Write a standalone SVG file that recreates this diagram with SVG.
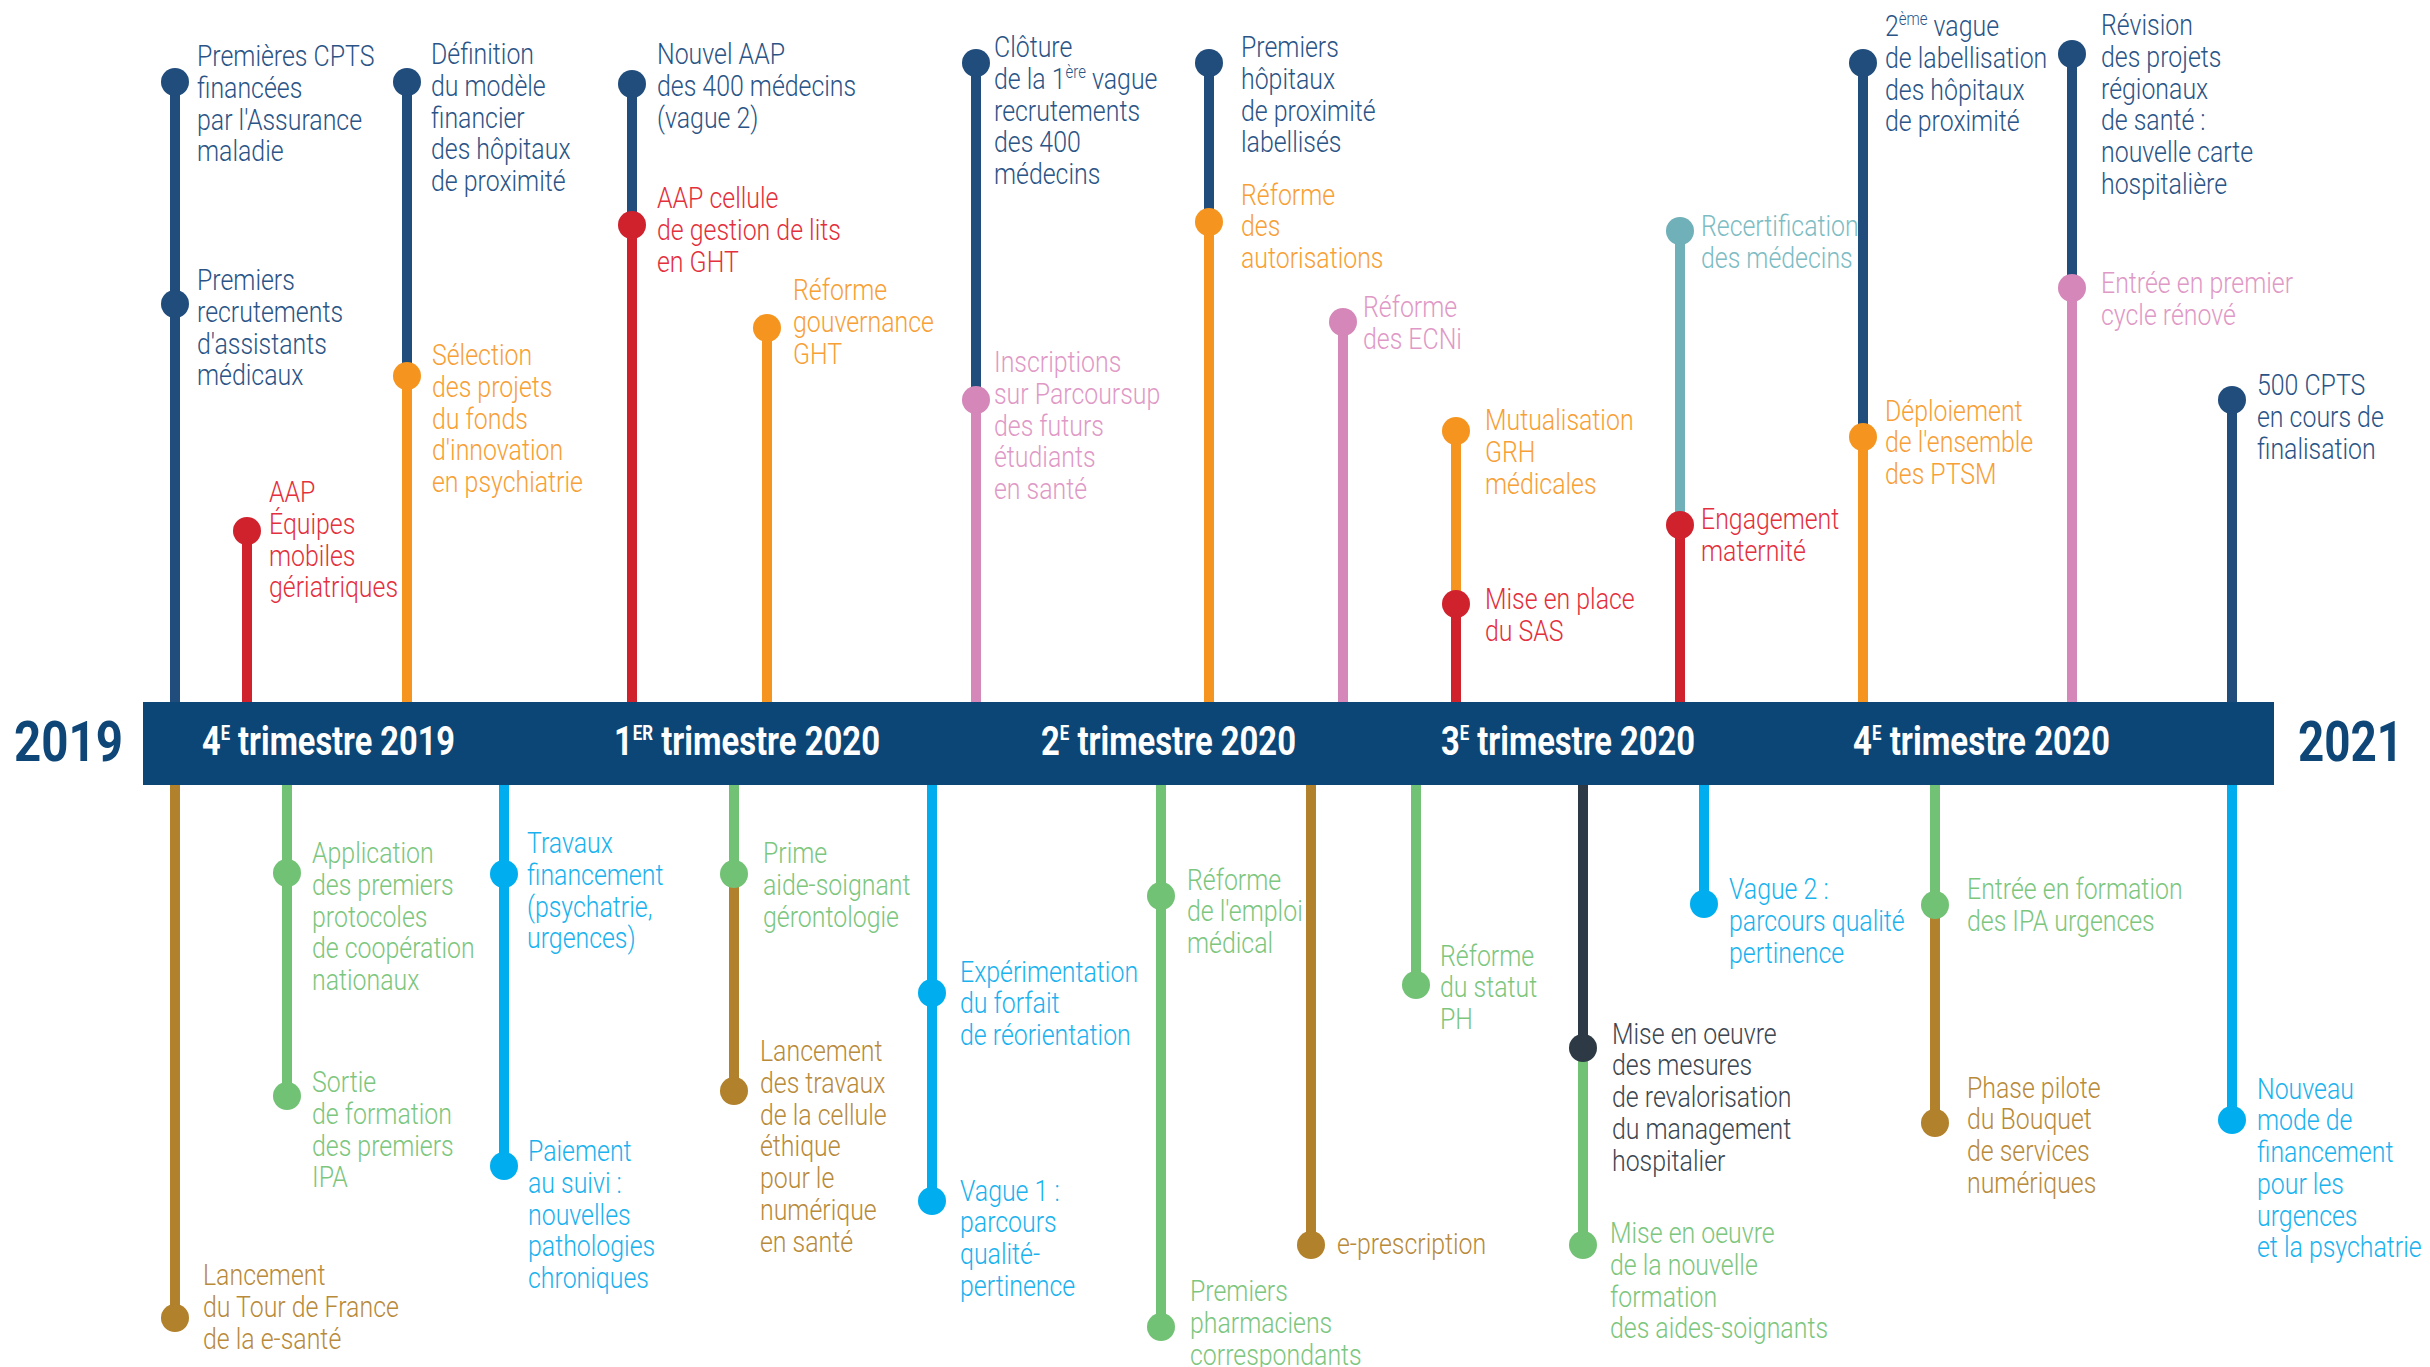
<svg xmlns="http://www.w3.org/2000/svg" width="2430" height="1367" viewBox="0 0 2430 1367">
<style>
.t{font-family:Roboto,"Liberation Sans",sans-serif;font-weight:300;font-size:30px}
.sup{font-size:18px}
.q{font-family:Roboto,"Liberation Sans",sans-serif;font-weight:700;font-size:41px;fill:#ffffff}
.qs{font-size:21px}
.yr{font-family:Roboto,"Liberation Sans",sans-serif;font-weight:700;font-size:55px;fill:#0d4677}
.c-navy{fill:#2a5486}.c-red{fill:#e3303c}.c-orange{fill:#f7a035}.c-pink{fill:#df99c6}.c-teal{fill:#7dbcc3}
.c-green{fill:#7cc67e}.c-blue{fill:#19b2ee}.c-gold{fill:#b88a3a}.c-dark{fill:#3c4650}
.d-navy{fill:#214d7c}.d-red{fill:#d0222d}.d-orange{fill:#f5951f}.d-pink{fill:#d487b8}.d-teal{fill:#6fb0b9}
.d-green{fill:#72c275}.d-blue{fill:#00aeef}.d-gold{fill:#b1812b}.d-dark{fill:#2d3a45}
.s{stroke-width:10;fill:none}
.s-navy{stroke:#214d7c}.s-red{stroke:#d0222d}.s-orange{stroke:#f5951f}.s-pink{stroke:#d487b8}.s-teal{stroke:#6fb0b9}
.s-green{stroke:#72c275}.s-blue{stroke:#00aeef}.s-gold{stroke:#b1812b}.s-dark{stroke:#2d3a45}
</style>
<defs>
<circle id="dot" cx="0" cy="0" r="14"/>
</defs>

<g id="connectors">
<line class="s s-navy" x1="175" y1="82" x2="175" y2="702"/>
<line class="s s-red" x1="247" y1="531" x2="247" y2="702"/>
<line class="s s-navy" x1="407" y1="82" x2="407" y2="376"/>
<line class="s s-orange" x1="407" y1="376" x2="407" y2="702"/>
<line class="s s-navy" x1="632" y1="84" x2="632" y2="225"/>
<line class="s s-red" x1="632" y1="225" x2="632" y2="702"/>
<line class="s s-orange" x1="767" y1="328" x2="767" y2="702"/>
<line class="s s-navy" x1="976" y1="63" x2="976" y2="400"/>
<line class="s s-pink" x1="976" y1="400" x2="976" y2="702"/>
<line class="s s-navy" x1="1209" y1="63" x2="1209" y2="222"/>
<line class="s s-orange" x1="1209" y1="222" x2="1209" y2="702"/>
<line class="s s-pink" x1="1343" y1="322" x2="1343" y2="702"/>
<line class="s s-orange" x1="1456" y1="431" x2="1456" y2="604"/>
<line class="s s-red" x1="1456" y1="604" x2="1456" y2="702"/>
<line class="s s-teal" x1="1680" y1="231" x2="1680" y2="525"/>
<line class="s s-red" x1="1680" y1="525" x2="1680" y2="702"/>
<line class="s s-navy" x1="1863" y1="63" x2="1863" y2="437"/>
<line class="s s-orange" x1="1863" y1="437" x2="1863" y2="702"/>
<line class="s s-navy" x1="2072" y1="54" x2="2072" y2="288"/>
<line class="s s-pink" x1="2072" y1="288" x2="2072" y2="702"/>
<line class="s s-navy" x1="2232" y1="400" x2="2232" y2="702"/>

<line class="s s-gold" x1="175" y1="785" x2="175" y2="1318"/>
<line class="s s-green" x1="287" y1="785" x2="287" y2="1096"/>
<line class="s s-blue" x1="504" y1="785" x2="504" y2="1166"/>
<line class="s s-green" x1="734" y1="785" x2="734" y2="874"/>
<line class="s s-gold" x1="734" y1="874" x2="734" y2="1091"/>
<line class="s s-blue" x1="932" y1="785" x2="932" y2="1201"/>
<line class="s s-green" x1="1161" y1="785" x2="1161" y2="1327"/>
<line class="s s-gold" x1="1311" y1="785" x2="1311" y2="1245"/>
<line class="s s-green" x1="1416" y1="785" x2="1416" y2="985"/>
<line class="s s-dark" x1="1583" y1="785" x2="1583" y2="1048"/>
<line class="s s-green" x1="1583" y1="1048" x2="1583" y2="1245"/>
<line class="s s-blue" x1="1704" y1="785" x2="1704" y2="904"/>
<line class="s s-green" x1="1935" y1="785" x2="1935" y2="905"/>
<line class="s s-gold" x1="1935" y1="905" x2="1935" y2="1123"/>
<line class="s s-blue" x1="2232" y1="785" x2="2232" y2="1120"/>
</g>

<g id="timeline-bar">
<rect x="143" y="702" width="2131" height="83" fill="#0c4676"/>
<text class="q" x="202" y="755" textLength="253" lengthAdjust="spacingAndGlyphs">4<tspan class="qs" dy="-15">E</tspan><tspan dy="15"> trimestre 2019</tspan></text>
<text class="q" x="614" y="755" textLength="266" lengthAdjust="spacingAndGlyphs">1<tspan class="qs" dy="-15">ER</tspan><tspan dy="15"> trimestre 2020</tspan></text>
<text class="q" x="1041" y="755" textLength="255" lengthAdjust="spacingAndGlyphs">2<tspan class="qs" dy="-15">E</tspan><tspan dy="15"> trimestre 2020</tspan></text>
<text class="q" x="1441" y="755" textLength="254" lengthAdjust="spacingAndGlyphs">3<tspan class="qs" dy="-15">E</tspan><tspan dy="15"> trimestre 2020</tspan></text>
<text class="q" x="1853" y="755" textLength="257" lengthAdjust="spacingAndGlyphs">4<tspan class="qs" dy="-15">E</tspan><tspan dy="15"> trimestre 2020</tspan></text>
</g>
<g id="year-2019"><text class="yr" x="14" y="761" textLength="109" lengthAdjust="spacingAndGlyphs">2019</text></g>
<g id="year-2021"><text class="yr" x="2298" y="761" textLength="105" lengthAdjust="spacingAndGlyphs">2021</text></g>

<g id="n-cpts"><use href="#dot" x="175" y="82" class="d-navy"/>
<text class="t c-navy" transform="translate(197 66) scale(0.83 1)"><tspan x="0">Premières CPTS</tspan><tspan x="0" dy="31.8">financées</tspan><tspan x="0" dy="31.8">par l'Assurance</tspan><tspan x="0" dy="31.8">maladie</tspan></text></g>
<g id="n-assistants"><use href="#dot" x="175" y="304" class="d-navy"/>
<text class="t c-navy" transform="translate(197 290) scale(0.83 1)"><tspan x="0">Premiers</tspan><tspan x="0" dy="31.8">recrutements</tspan><tspan x="0" dy="31.8">d'assistants</tspan><tspan x="0" dy="31.8">médicaux</tspan></text></g>
<g id="n-aap-equipes"><use href="#dot" x="247" y="531" class="d-red"/>
<text class="t c-red" transform="translate(269 502) scale(0.83 1)"><tspan x="0">AAP</tspan><tspan x="0" dy="31.8">Équipes</tspan><tspan x="0" dy="31.8">mobiles</tspan><tspan x="0" dy="31.8">gériatriques</tspan></text></g>
<g id="n-definition"><use href="#dot" x="407" y="82" class="d-navy"/>
<text class="t c-navy" transform="translate(431 64) scale(0.83 1)"><tspan x="0">Définition</tspan><tspan x="0" dy="31.8">du modèle</tspan><tspan x="0" dy="31.8">financier</tspan><tspan x="0" dy="31.8">des hôpitaux</tspan><tspan x="0" dy="31.8">de proximité</tspan></text></g>
<g id="n-selection"><use href="#dot" x="407" y="376" class="d-orange"/>
<text class="t c-orange" transform="translate(432 365) scale(0.83 1)"><tspan x="0">Sélection</tspan><tspan x="0" dy="31.8">des projets</tspan><tspan x="0" dy="31.8">du fonds</tspan><tspan x="0" dy="31.8">d'innovation</tspan><tspan x="0" dy="31.8">en psychiatrie</tspan></text></g>
<g id="n-nouvel-aap"><use href="#dot" x="632" y="84" class="d-navy"/>
<text class="t c-navy" transform="translate(657 64) scale(0.83 1)"><tspan x="0">Nouvel AAP</tspan><tspan x="0" dy="31.8">des 400 médecins</tspan><tspan x="0" dy="31.8">(vague 2)</tspan></text></g>
<g id="n-aap-cellule"><use href="#dot" x="632" y="225" class="d-red"/>
<text class="t c-red" transform="translate(657 208) scale(0.83 1)"><tspan x="0">AAP cellule</tspan><tspan x="0" dy="31.8">de gestion de lits</tspan><tspan x="0" dy="31.8">en GHT</tspan></text></g>
<g id="n-gouvernance"><use href="#dot" x="767" y="328" class="d-orange"/>
<text class="t c-orange" transform="translate(793 300) scale(0.83 1)"><tspan x="0">Réforme</tspan><tspan x="0" dy="31.8">gouvernance</tspan><tspan x="0" dy="31.8">GHT</tspan></text></g>
<g id="n-cloture"><use href="#dot" x="976" y="63" class="d-navy"/>
<text class="t c-navy" transform="translate(994 57) scale(0.83 1)"><tspan x="0">Clôture</tspan><tspan x="0" dy="31.8">de la 1</tspan><tspan class="sup" dy="-11">ère</tspan><tspan dy="11"> vague</tspan><tspan x="0" dy="31.8">recrutements</tspan><tspan x="0" dy="31.8">des 400</tspan><tspan x="0" dy="31.8">médecins</tspan></text></g>
<g id="n-parcoursup"><use href="#dot" x="976" y="400" class="d-pink"/>
<text class="t c-pink" transform="translate(994 372) scale(0.83 1)"><tspan x="0">Inscriptions</tspan><tspan x="0" dy="31.8">sur Parcoursup</tspan><tspan x="0" dy="31.8">des futurs</tspan><tspan x="0" dy="31.8">étudiants</tspan><tspan x="0" dy="31.8">en santé</tspan></text></g>
<g id="n-hopitaux-labellises"><use href="#dot" x="1209" y="63" class="d-navy"/>
<text class="t c-navy" transform="translate(1241 57) scale(0.83 1)"><tspan x="0">Premiers</tspan><tspan x="0" dy="31.8">hôpitaux</tspan><tspan x="0" dy="31.8">de proximité</tspan><tspan x="0" dy="31.8">labellisés</tspan></text></g>
<g id="n-autorisations"><use href="#dot" x="1209" y="222" class="d-orange"/>
<text class="t c-orange" transform="translate(1241 204.5) scale(0.83 1)"><tspan x="0">Réforme</tspan><tspan x="0" dy="31.8">des</tspan><tspan x="0" dy="31.8">autorisations</tspan></text></g>
<g id="n-ecni"><use href="#dot" x="1343" y="322" class="d-pink"/>
<text class="t c-pink" transform="translate(1363 317) scale(0.83 1)"><tspan x="0">Réforme</tspan><tspan x="0" dy="31.8">des ECNi</tspan></text></g>
<g id="n-grh"><use href="#dot" x="1456" y="431" class="d-orange"/>
<text class="t c-orange" transform="translate(1485 430) scale(0.83 1)"><tspan x="0">Mutualisation</tspan><tspan x="0" dy="31.8">GRH</tspan><tspan x="0" dy="31.8">médicales</tspan></text></g>
<g id="n-sas"><use href="#dot" x="1456" y="604" class="d-red"/>
<text class="t c-red" transform="translate(1485 609) scale(0.83 1)"><tspan x="0">Mise en place</tspan><tspan x="0" dy="31.8">du SAS</tspan></text></g>
<g id="n-recertification"><use href="#dot" x="1680" y="231" class="d-teal"/>
<text class="t c-teal" transform="translate(1701 236) scale(0.83 1)"><tspan x="0">Recertification</tspan><tspan x="0" dy="31.8">des médecins</tspan></text></g>
<g id="n-maternite"><use href="#dot" x="1680" y="525" class="d-red"/>
<text class="t c-red" transform="translate(1701 529) scale(0.83 1)"><tspan x="0">Engagement</tspan><tspan x="0" dy="31.8">maternité</tspan></text></g>
<g id="n-2e-vague"><use href="#dot" x="1863" y="63" class="d-navy"/>
<text class="t c-navy" transform="translate(1885 36) scale(0.83 1)"><tspan x="0">2</tspan><tspan class="sup" dy="-11">ème</tspan><tspan dy="11"> vague</tspan><tspan x="0" dy="31.8">de labellisation</tspan><tspan x="0" dy="31.8">des hôpitaux</tspan><tspan x="0" dy="31.8">de proximité</tspan></text></g>
<g id="n-ptsm"><use href="#dot" x="1863" y="437" class="d-orange"/>
<text class="t c-orange" transform="translate(1885 420.5) scale(0.83 1)"><tspan x="0">Déploiement</tspan><tspan x="0" dy="31.8">de l'ensemble</tspan><tspan x="0" dy="31.8">des PTSM</tspan></text></g>
<g id="n-revision"><use href="#dot" x="2072" y="54" class="d-navy"/>
<text class="t c-navy" transform="translate(2101 35) scale(0.83 1)"><tspan x="0">Révision</tspan><tspan x="0" dy="31.8">des projets</tspan><tspan x="0" dy="31.8">régionaux</tspan><tspan x="0" dy="31.8">de santé :</tspan><tspan x="0" dy="31.8">nouvelle carte</tspan><tspan x="0" dy="31.8">hospitalière</tspan></text></g>
<g id="n-premier-cycle"><use href="#dot" x="2072" y="288" class="d-pink"/>
<text class="t c-pink" transform="translate(2101 293) scale(0.83 1)"><tspan x="0">Entrée en premier</tspan><tspan x="0" dy="31.8">cycle rénové</tspan></text></g>
<g id="n-500-cpts"><use href="#dot" x="2232" y="400" class="d-navy"/>
<text class="t c-navy" transform="translate(2257 395) scale(0.83 1)"><tspan x="0">500 CPTS</tspan><tspan x="0" dy="31.8">en cours de</tspan><tspan x="0" dy="31.8">finalisation</tspan></text></g>

<g id="n-tour-de-france"><use href="#dot" x="175" y="1318" class="d-gold"/>
<text class="t c-gold" transform="translate(203 1285) scale(0.83 1)"><tspan x="0">Lancement</tspan><tspan x="0" dy="31.8">du Tour de France</tspan><tspan x="0" dy="31.8">de la e-santé</tspan></text></g>
<g id="n-protocoles"><use href="#dot" x="287" y="873" class="d-green"/>
<text class="t c-green" transform="translate(312 863) scale(0.83 1)"><tspan x="0">Application</tspan><tspan x="0" dy="31.8">des premiers</tspan><tspan x="0" dy="31.8">protocoles</tspan><tspan x="0" dy="31.8">de coopération</tspan><tspan x="0" dy="31.8">nationaux</tspan></text></g>
<g id="n-ipa"><use href="#dot" x="287" y="1096" class="d-green"/>
<text class="t c-green" transform="translate(312 1092) scale(0.83 1)"><tspan x="0">Sortie</tspan><tspan x="0" dy="31.8">de formation</tspan><tspan x="0" dy="31.8">des premiers</tspan><tspan x="0" dy="31.8">IPA</tspan></text></g>
<g id="n-travaux"><use href="#dot" x="504" y="874" class="d-blue"/>
<text class="t c-blue" transform="translate(527 853) scale(0.83 1)"><tspan x="0">Travaux</tspan><tspan x="0" dy="31.8">financement</tspan><tspan x="0" dy="31.8">(psychatrie,</tspan><tspan x="0" dy="31.8">urgences)</tspan></text></g>
<g id="n-paiement"><use href="#dot" x="504" y="1166" class="d-blue"/>
<text class="t c-blue" transform="translate(528 1161) scale(0.83 1)"><tspan x="0">Paiement</tspan><tspan x="0" dy="31.8">au suivi :</tspan><tspan x="0" dy="31.8">nouvelles</tspan><tspan x="0" dy="31.8">pathologies</tspan><tspan x="0" dy="31.8">chroniques</tspan></text></g>
<g id="n-prime"><use href="#dot" x="734" y="874" class="d-green"/>
<text class="t c-green" transform="translate(763 863) scale(0.83 1)"><tspan x="0">Prime</tspan><tspan x="0" dy="31.8">aide-soignant</tspan><tspan x="0" dy="31.8">gérontologie</tspan></text></g>
<g id="n-ethique"><use href="#dot" x="734" y="1091" class="d-gold"/>
<text class="t c-gold" transform="translate(760 1061) scale(0.83 1)"><tspan x="0">Lancement</tspan><tspan x="0" dy="31.8">des travaux</tspan><tspan x="0" dy="31.8">de la cellule</tspan><tspan x="0" dy="31.8">éthique</tspan><tspan x="0" dy="31.8">pour le</tspan><tspan x="0" dy="31.8">numérique</tspan><tspan x="0" dy="31.8">en santé</tspan></text></g>
<g id="n-forfait"><use href="#dot" x="932" y="993" class="d-blue"/>
<text class="t c-blue" transform="translate(960 981.5) scale(0.83 1)"><tspan x="0">Expérimentation</tspan><tspan x="0" dy="31.8">du forfait</tspan><tspan x="0" dy="31.8">de réorientation</tspan></text></g>
<g id="n-vague1"><use href="#dot" x="932" y="1201" class="d-blue"/>
<text class="t c-blue" transform="translate(960 1200.6) scale(0.83 1)"><tspan x="0">Vague 1 :</tspan><tspan x="0" dy="31.8">parcours</tspan><tspan x="0" dy="31.8">qualité-</tspan><tspan x="0" dy="31.8">pertinence</tspan></text></g>
<g id="n-emploi"><use href="#dot" x="1161" y="896" class="d-green"/>
<text class="t c-green" transform="translate(1187 889.5) scale(0.83 1)"><tspan x="0">Réforme</tspan><tspan x="0" dy="31.8">de l'emploi</tspan><tspan x="0" dy="31.8">médical</tspan></text></g>
<g id="n-pharmaciens"><use href="#dot" x="1161" y="1327" class="d-green"/>
<text class="t c-green" transform="translate(1190 1301.4) scale(0.83 1)"><tspan x="0">Premiers</tspan><tspan x="0" dy="31.8">pharmaciens</tspan><tspan x="0" dy="31.8">correspondants</tspan></text></g>
<g id="n-eprescription"><use href="#dot" x="1311" y="1245" class="d-gold"/>
<text class="t c-gold" transform="translate(1337 1254) scale(0.83 1)">e-prescription</text></g>
<g id="n-statut-ph"><use href="#dot" x="1416" y="985" class="d-green"/>
<text class="t c-green" transform="translate(1440 965.7) scale(0.83 1)"><tspan x="0">Réforme</tspan><tspan x="0" dy="31.8">du statut</tspan><tspan x="0" dy="31.8">PH</tspan></text></g>
<g id="n-management"><use href="#dot" x="1583" y="1048" class="d-dark"/>
<text class="t c-dark" transform="translate(1612 1043.7) scale(0.83 1)"><tspan x="0">Mise en oeuvre</tspan><tspan x="0" dy="31.8">des mesures</tspan><tspan x="0" dy="31.8">de revalorisation</tspan><tspan x="0" dy="31.8">du management</tspan><tspan x="0" dy="31.8">hospitalier</tspan></text></g>
<g id="n-aides-soignants"><use href="#dot" x="1583" y="1245" class="d-green"/>
<text class="t c-green" transform="translate(1610 1243) scale(0.83 1)"><tspan x="0">Mise en oeuvre</tspan><tspan x="0" dy="31.8">de la nouvelle</tspan><tspan x="0" dy="31.8">formation</tspan><tspan x="0" dy="31.8">des aides-soignants</tspan></text></g>
<g id="n-vague2"><use href="#dot" x="1704" y="904" class="d-blue"/>
<text class="t c-blue" transform="translate(1729 899) scale(0.83 1)"><tspan x="0">Vague 2 :</tspan><tspan x="0" dy="31.8">parcours qualité</tspan><tspan x="0" dy="31.8">pertinence</tspan></text></g>
<g id="n-ipa-urgences"><use href="#dot" x="1935" y="905" class="d-green"/>
<text class="t c-green" transform="translate(1967 899) scale(0.83 1)"><tspan x="0">Entrée en formation</tspan><tspan x="0" dy="31.8">des IPA urgences</tspan></text></g>
<g id="n-bouquet"><use href="#dot" x="1935" y="1123" class="d-gold"/>
<text class="t c-gold" transform="translate(1967 1097.6) scale(0.83 1)"><tspan x="0">Phase pilote</tspan><tspan x="0" dy="31.8">du Bouquet</tspan><tspan x="0" dy="31.8">de services</tspan><tspan x="0" dy="31.8">numériques</tspan></text></g>
<g id="n-financement-urgences"><use href="#dot" x="2232" y="1120" class="d-blue"/>
<text class="t c-blue" transform="translate(2257 1098.5) scale(0.83 1)"><tspan x="0">Nouveau</tspan><tspan x="0" dy="31.8">mode de</tspan><tspan x="0" dy="31.8">financement</tspan><tspan x="0" dy="31.8">pour les</tspan><tspan x="0" dy="31.8">urgences</tspan><tspan x="0" dy="31.8">et la psychatrie</tspan></text></g>
</svg>
